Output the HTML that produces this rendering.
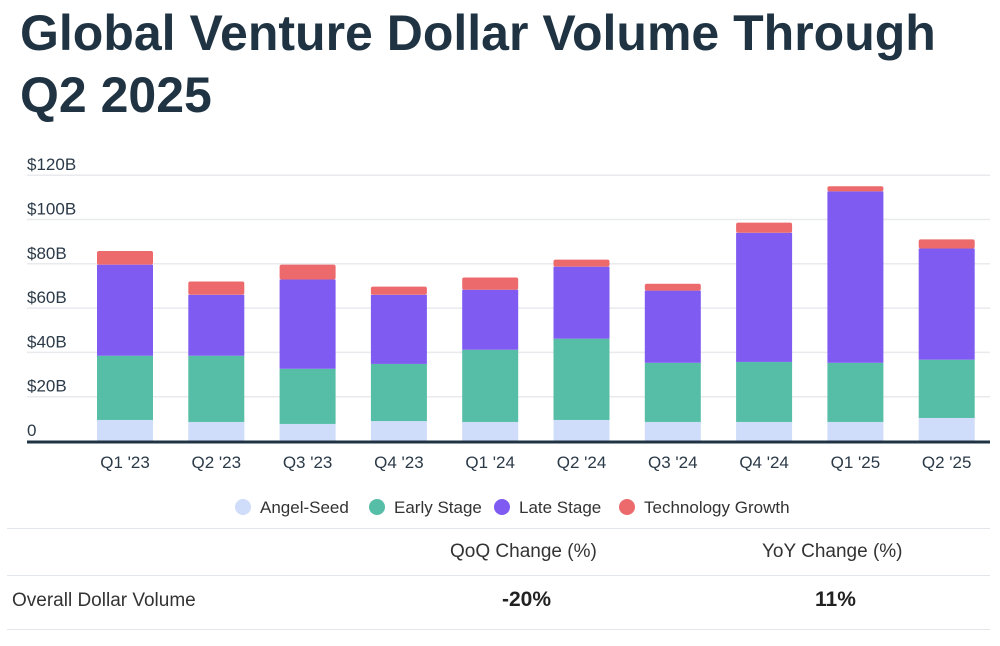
<!DOCTYPE html>
<html><head><meta charset="utf-8"><style>
body{margin:0;background:#fff;font-family:"Liberation Sans",sans-serif;color:#1b2b3a;width:1000px;height:646px;overflow:hidden;position:relative}
h1{position:absolute;left:20px;top:2px;margin:0;font-size:50px;line-height:62px;font-weight:bold;color:#1f3343;letter-spacing:0px}
.tbl{position:absolute;left:7px;width:983px;border-top:1px solid #e3e6ea}
</style></head><body>
<h1>Global Venture Dollar Volume Through<br>Q2 2025</h1>
<svg id="chart" width="1000" height="530" style="position:absolute;left:0;top:0"></svg>
<div class="tbl" style="top:528px"></div>
<div class="tbl" style="top:575px"></div>
<div class="tbl" style="top:629px"></div>
<div style="position:absolute;left:450px;top:541px;font-size:19px;color:#333">QoQ Change (%)</div>
<div style="position:absolute;left:762px;top:541px;font-size:19px;color:#333">YoY Change (%)</div>
<div style="position:absolute;left:12px;top:590px;font-size:19px;color:#333">Overall Dollar Volume</div>
<div style="position:absolute;left:502px;top:588px;font-size:21px;font-weight:bold;color:#222">-20%</div>
<div style="position:absolute;left:815px;top:588px;font-size:21px;font-weight:bold;color:#222">11%</div>
<script>
const categories=["Q1 '23","Q2 '23","Q3 '23","Q4 '23","Q1 '24","Q2 '24","Q3 '24","Q4 '24","Q1 '25","Q2 '25"];
const angelSeed=[9.5,8.6,7.7,9,8.6,9.5,8.6,8.6,8.6,10.4];
const earlyStage=[29,29.9,24.9,25.8,32.6,36.7,26.7,27.1,26.7,26.3];
const lateStage=[41.1,27.5,40.3,31.2,27.1,32.5,32.6,58.3,77.4,50.2];
const techGrowth=[6.2,6,6.7,3.7,5.5,3.2,3.1,4.6,2.3,4.1];
const yTicks=[0,20,40,60,80,100,120];
const yTickLabels=["0","$20B","$40B","$60B","$80B","$100B","$120B"];
const legendLabels=["Angel-Seed","Early Stage","Late Stage","Technology Growth"];
const colors=["#cfdcfa","#56bea6","#7f5bf1","#ec6a6c"];
const ns="http://www.w3.org/2000/svg",svg=document.getElementById('chart');
const y=v=>441-v*2.215, x=i=>125+i*91.3, bw=56;
function mk(t,a,p){const e=document.createElementNS(ns,t);for(const k in a)e.setAttribute(k,a[k]);(p||svg).appendChild(e);return e;}
yTicks.forEach((t,i)=>{
 if(t>0){const g=mk('line',{x1:27,x2:990,y1:y(t),y2:y(t),stroke:'#e8eaed','stroke-width':1.5});
 
 }
 const l=mk('text',{x:27,y:y(t)-5,'font-size':17,fill:'#2b3a48'});l.textContent=yTickLabels[i];
 
 
});
const series=[angelSeed,earlyStage,lateStage,techGrowth];
categories.forEach((c,i)=>{
 let base=0;
 series.forEach((s,k)=>{
  const v=s[i];const r=mk('rect',{x:x(i)-bw/2,y:y(base+v),width:bw,height:v*2.215,fill:colors[k],rx:k==3?2:0});
  
  
  base+=v;
 });
 const t=mk('text',{x:x(i),y:468,'font-size':17,fill:'#2b3a48','text-anchor':'middle'});t.textContent=c;
 
 
});
const ax=mk('line',{x1:27,x2:990,y1:442,y2:442,stroke:'#1f3343','stroke-width':3});


const lx=[243,377,502,627];
legendLabels.forEach((n,k)=>{
 const c=mk('circle',{cx:lx[k],cy:507,r:8,fill:colors[k]});
 
 
 const t=mk('text',{x:lx[k]+17,y:513,'font-size':17,fill:'#333'});t.textContent=n;
 
 
});
</script>
</body></html>
